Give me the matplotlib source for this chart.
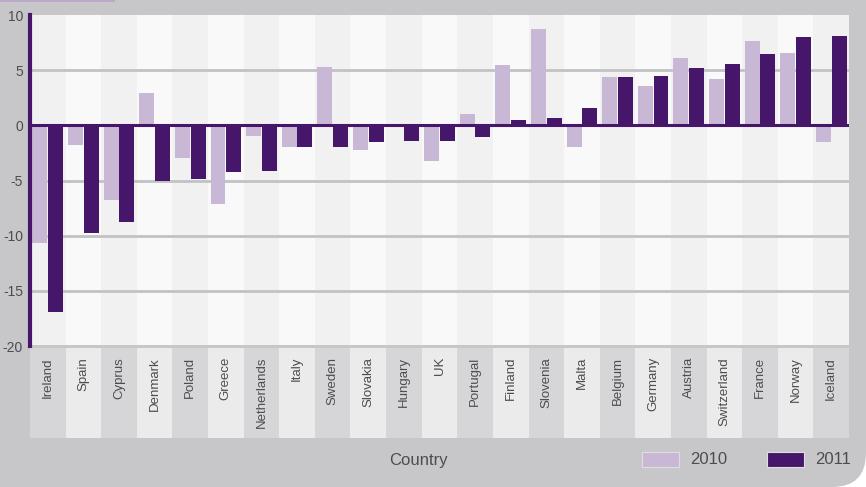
"""Annual change by country, 2010 vs 2011."""

import numpy as np
import matplotlib
matplotlib.use("Agg")
import matplotlib.pyplot as plt
from matplotlib.patches import FancyBboxPatch, Rectangle

countries = ["Ireland", "Spain", "Cyprus", "Denmark", "Poland", "Greece",
             "Netherlands", "Italy", "Sweden", "Slovakia", "Hungary", "UK",
             "Portugal", "Finland", "Slovenia", "Malta", "Belgium", "Germany",
             "Austria", "Switzerland", "France", "Norway", "Iceland"]
values_2010 = [-10.7, -1.8, -6.8, 2.9, -3.0, -7.1, -1.0, -2.0, 5.3, -2.2, 0.0,
               -3.2, 1.0, 5.5, 8.7, -2.0, 4.4, 3.6, 6.1, 4.2, 7.6, 6.6, -1.5]
values_2011 = [-16.9, -9.8, -8.8, -5.0, -4.9, -4.2, -4.1, -2.0, -2.0, -1.5,
               -1.4, -1.4, -1.1, 0.5, 0.7, 1.6, 4.4, 4.5, 5.2, 5.6, 6.5, 8.0, 8.1]
y_ticks = [-20, -15, -10, -5, 0, 5, 10]

W, H = 866, 487
light = "#c8b8d5"
dark = "#46166b"
text_col = "#4d4d4f"

fig = plt.figure(figsize=(W / 100, H / 100), dpi=100, facecolor="white")
plt.rcParams["font.family"] = ["Liberation Sans", "DejaVu Sans"]

# grey card, only the bottom-right corner is rounded (sizes in inches)
fig.patches.append(FancyBboxPatch((-1.0, 0.0), W / 100 + 1.0, H / 100 + 1.0,
                                  boxstyle="round,pad=0,rounding_size=0.34",
                                  transform=fig.dpi_scale_trans,
                                  facecolor="#c7c6c8", edgecolor="none", zorder=-5))
fig.patches.append(Rectangle((0, 1 - 2 / H), 115 / W, 2 / H, transform=fig.transFigure,
                             facecolor="#b9a9c9", edgecolor="none"))

x = np.arange(len(countries))
left, right = 30, 849
ax = fig.add_axes([left / W, (H - 346) / H, (right - left) / W, 331 / H])
ax.set_xlim(-0.5, len(countries) - 0.5)
ax.set_ylim(-20, 10)

# alternating column background
col_bg = ["#f1f1f2" if i % 2 == 0 else "#f9f9f9" for i in x]
ax.bar(x, 30, bottom=-20, width=1, color=col_bg, zorder=0)
for t in [-20, -15, -10, -5, 5]:
    ax.axhline(t, color="#c2c2c4", lw=2, zorder=1)

ax.bar(x - 0.22, values_2010, width=0.42, color=light, zorder=2)
ax.bar(x + 0.22, values_2011, width=0.42, color=dark, zorder=3)
ax.axhline(0, color=dark, lw=2.2, zorder=4)

ax.set_facecolor("none")
for s in ["top", "right", "bottom"]:
    ax.spines[s].set_visible(False)
ax.spines["left"].set_color(dark)
ax.spines["left"].set_linewidth(3)
ax.set_xticks([])
ax.set_yticks(y_ticks)
ax.set_yticklabels([str(t) for t in y_ticks], fontsize=10, color=text_col)
ax.tick_params(axis="y", length=0, pad=5)

# band with the country names
band = fig.add_axes([left / W, (H - 438) / H, (right - left) / W, 90 / H])
band.set_xlim(ax.get_xlim())
band.set_ylim(0, 1)
band_bg = ["#d6d6d8" if i % 2 == 0 else "#ebebeb" for i in x]
band.bar(x, 1, width=1, color=band_bg)
for i, name in zip(x, countries):
    band.text(i, 0.9, name, rotation=90, ha="center", va="top",
              fontsize=9.5, color=text_col)
band.axis("off")

fig.text(418 / W, 1 - 460 / H, "Country", ha="center", va="center",
         fontsize=12, color=text_col)

# legend
for sx, tx, col, lab in [(642, 690, light, "2010"), (767, 815, dark, "2011")]:
    fig.patches.append(Rectangle((sx / W, 1 - 467 / H), 37 / W, 15 / H,
                                 transform=fig.transFigure, facecolor=col,
                                 edgecolor="#e0dce4", lw=0.8))
    fig.text(tx / W, 1 - 460 / H, lab, ha="left", va="center",
             fontsize=12, color=text_col)

fig.savefig("out.png", dpi=100, facecolor=fig.get_facecolor())
